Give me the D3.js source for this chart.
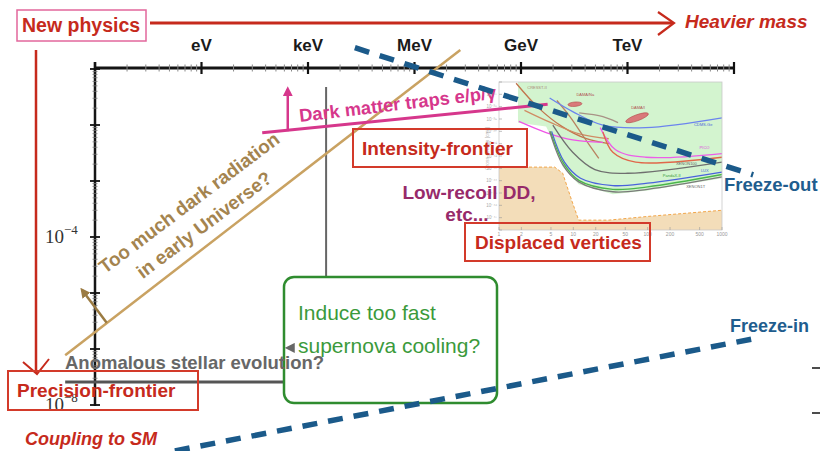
<!DOCTYPE html>
<html>
<head>
<meta charset="utf-8">
<script src="https://cdn.jsdelivr.net/npm/d3@7"></script>
<style>
  body { margin: 0; background: #fff; }
  svg { display: block; font-family: "Liberation Sans", Arial, Helvetica, sans-serif; }
</style>
</head>
<body>
<svg id="chart" width="820" height="451"></svg>
<script>
// mass axis: one major step per labelled unit
var massLabels = ["eV", "keV", "MeV", "GeV", "TeV"];
var massSteps = [1, 2, 3, 4, 5];
var couplingTicks = [1e-4, 1e-7];
var couplingLabels = ["\u22124", "\u22128"];

// schematic lines, [mass step, log10 coupling]
var freezeOut = [[2.44, -0.62], [6.18, -2.89]];
var freezeIn = [[0.75, -7.82], [6.23, -5.80]];
var darkRadiation = [[-0.28, -6.11], [3.43, -0.66]];
var darkRadArrow = [[0.11, -5.53], [-0.12, -4.95]];
var trapsLine = [[1.57, -2.14], [4.25, -1.63]];
var trapsArrow = [[1.81, -2.11], [1.81, -1.36]];
var stellarFloor = [[-0.28, -6.59], [2.17, -6.59]];
var stellarWall = [[2.17, -1.32], [2.17, -6.66]];
var stellarArrow = [[2.17, -5.98], [1.81, -5.98]];

// inset: direct detection plot, [mass GeV, log10 cross section]
var insetMassTicks = [1, 2, 5, 10, 20, 50, 100, 200, 500, 1000];
var insetSigmaTicks = [-36, -37, -38, -39, -40, -41, -42, -43, -44, -45, -46, -47, -48];
var excludedRegion = [[1.8, -36], [1000, -36], [1000, -43.8], [100, -44.8], [34, -45.1], [11.8, -44.3], [7.2, -42.9], [4.8, -40.2], [4.3, -39.6], [1.8, -39.3]];
var lowRecoilRegion = [[1, -42.9], [5.6, -42.9], [7.2, -43.4], [9.5, -45.6], [11.8, -47.2], [30, -47.2], [100, -46.9], [1000, -46.4]];
var curveXenon1T = [[4.8, -40.0], [7.2, -42.7], [11.8, -44.1], [34, -44.9], [100, -44.7], [1000, -43.7]];
var curvePandaX = [[4.9, -40.0], [7.4, -42.6], [12, -44.0], [34, -44.7], [100, -44.5], [1000, -43.5]];
var curveLux = [[5.1, -40.0], [7.6, -42.5], [12.5, -43.8], [34, -44.4], [100, -44.2], [1000, -43.3]];
var curveXenon100 = [[5.3, -39.5], [9.8, -41.7], [19.5, -43.1], [55, -43.4], [1000, -42.5]];
var curveDarkSide = [[25, -40.05], [34, -41.7], [69, -42.5], [1000, -42.1]];
var curvePico = [[23, -39.7], [37, -41.5], [94, -42.1], [1000, -41.8]];
var curveCdmsLow = [[1.85, -39.2], [4.3, -40.1], [9.8, -40.7], [25, -40.9]];
var curveCdmsGe = [[4.8, -37.3], [9.8, -38.4], [25, -39.5], [94, -39.7], [1000, -38.9]];
var curveCresst = [[1.7, -36.1], [3.4, -38.1], [7, -39.6], [15, -40.6], [30, -41.0]];
var curveCogent = [[2.2, -38.3], [5, -39.3], [12, -40.2], [30, -40.6]];
var curveDamic = [[6, -37.5], [9, -38.8], [14, -40.5], [22, -42.2]];
var curveEdelweiss = [[12, -38.5], [25, -38.8], [40, -39.3]];
var signalBlobs = [[10.5, -37.8, 7, 2.2, -5], [72, -38.9, 12, 3, -20]];

var svg = d3.select("#chart");
var red = "#c62a1c", blue = "#1b5a8a", gold = "#c9a262", goldText = "#a4844f",
    magenta = "#d6378c", purple = "#972a6a", green = "#2f8c2f", grey = "#676767";

var x = d3.scaleLog().domain([1, 1e6]).range([95, 734]);
var y = d3.scaleLog().domain([1e-1, 1e-7]).range([69, 405]);
function px(d) { return x(Math.pow(10, d[0])); }
function py(d) { return y(Math.pow(10, d[1])); }
var line = d3.line().x(px).y(py);

var defs = svg.append("defs");
function arrowHead(id, color) {
    defs.append("marker").attr("id", id)
        .attr("viewBox", "0 0 10 10").attr("refX", 7).attr("refY", 5)
        .attr("markerWidth", 4).attr("markerHeight", 4).attr("orient", "auto")
        .append("path").attr("d", "M0,0L10,5L0,10z").attr("fill", color);
}
arrowHead("headGold", "#9b7b42");
arrowHead("headMag", magenta);
arrowHead("headGrey", grey);

// --- red frame: new physics / heavier mass / coupling
svg.append("rect").attr("x", 17).attr("y", 10).attr("width", 129).attr("height", 31)
    .attr("fill", "none").attr("stroke", "#e2679c").attr("stroke-width", 1.5);
svg.append("text").attr("x", 22).attr("y", 32).text("New physics")
    .attr("fill", red).attr("font-weight", "bold").attr("font-size", 19.5);
svg.append("line").attr("x1", 150).attr("x2", 673).attr("y1", 23).attr("y2", 23)
    .attr("stroke", red).attr("stroke-width", 3);
svg.append("path").attr("d", "M658,12L674,23L658,35")
    .attr("fill", "none").attr("stroke", red).attr("stroke-width", 2.2);
svg.append("text").attr("x", 685).attr("y", 28).text("Heavier mass")
    .attr("fill", red).attr("font-weight", "bold").attr("font-style", "italic").attr("font-size", 19);

svg.append("line").attr("x1", 36).attr("x2", 36).attr("y1", 50).attr("y2", 373)
    .attr("stroke", red).attr("stroke-width", 2.5);
svg.append("path").attr("d", "M23,362L37,374L49,359")
    .attr("fill", "none").attr("stroke", red).attr("stroke-width", 2);

// --- axes
var axisY = 68;
svg.append("line").attr("x1", x.range()[0]).attr("x2", x.range()[1]).attr("y1", axisY).attr("y2", axisY)
    .attr("stroke", "#151515").attr("stroke-width", 3);
function isMajor(t) { var l = Math.log10(t); return Math.abs(l - Math.round(l)) < 1e-6; }
svg.append("g").selectAll("line").data(x.ticks()).enter().append("line")
    .attr("x1", d => x(d)).attr("x2", d => x(d))
    .attr("y1", d => axisY - (isMajor(d) ? 6 : 3.5)).attr("y2", d => axisY + (isMajor(d) ? 6 : 3.5))
    .attr("stroke", d => isMajor(d) ? "#111" : "#888")
    .attr("stroke-width", d => isMajor(d) ? 2.2 : 1);
svg.append("g").selectAll("text").data(massLabels).enter().append("text")
    .attr("x", (d, i) => x(Math.pow(10, massSteps[i]))).attr("y", 51)
    .attr("text-anchor", "middle").attr("font-weight", "bold").attr("font-size", 17)
    .attr("fill", "#1a1a1a").text(d => d);

svg.append("line").attr("x1", 95).attr("x2", 95).attr("y1", 62).attr("y2", 406)
    .attr("stroke", "#151515").attr("stroke-width", 2.5);
svg.append("g").selectAll("line").data(y.ticks()).enter().append("line")
    .attr("y1", d => y(d)).attr("y2", d => y(d))
    .attr("x1", d => 95 - (isMajor(d) ? 5 : 2.5)).attr("x2", d => 95 + (isMajor(d) ? 5 : 2.5))
    .attr("stroke", d => isMajor(d) ? "#111" : "#777")
    .attr("stroke-width", d => isMajor(d) ? 1.8 : 0.8);
var yl = svg.append("g").selectAll("text").data(couplingTicks).enter().append("text")
    .attr("x", 45).attr("y", d => y(d) + 6)
    .attr("font-family", "'Liberation Serif', 'DejaVu Serif', serif").attr("font-size", 19).attr("fill", "#333");
yl.append("tspan").text("10");
yl.append("tspan").attr("dy", -9).attr("font-size", 13).text((d, i) => couplingLabels[i]);

// cut-off marks at right edge
svg.append("g").selectAll("line").data([368, 413]).enter().append("line")
    .attr("x1", 812).attr("x2", 820).attr("y1", d => d).attr("y2", d => d)
    .attr("stroke", "#111").attr("stroke-width", 1.5);

// --- stellar bound
svg.append("path").attr("d", line(stellarFloor)).attr("stroke", "#555").attr("stroke-width", 3).attr("fill", "none");
svg.append("path").attr("d", line(stellarWall)).attr("stroke", "#666").attr("stroke-width", 2).attr("fill", "none");

// --- dark radiation
svg.append("path").attr("d", line(darkRadiation)).attr("stroke", gold).attr("stroke-width", 2.5).attr("fill", "none");
svg.append("path").attr("d", line(darkRadArrow)).attr("stroke", "#9b7b42").attr("stroke-width", 2.5)
    .attr("fill", "none").attr("marker-end", "url(#headGold)");
var radTxt = svg.append("g").attr("fill", goldText).attr("font-weight", "bold").attr("font-size", 19).attr("text-anchor", "middle");
radTxt.append("text").attr("transform", "translate(193,208) rotate(-37)").text("Too much dark radiation");
radTxt.append("text").attr("transform", "translate(208,230) rotate(-37)").text("in early Universe?");

// --- traps label (under inset)
svg.append("text").attr("transform", "translate(300,122) rotate(-6.8)")
    .attr("fill", magenta).attr("font-weight", "bold").attr("font-size", 18.3).text("Dark matter traps e/p/\u03b3");

// --- inset direct detection plot
var ix = d3.scaleLog().domain([1, 1000]).range([499, 722]);
var iy = d3.scaleLinear().domain([-36, -48]).range([82, 230]);
var iline = d3.line().x(d => ix(d[0])).y(d => iy(d[1])).curve(d3.curveCatmullRom);
var inset = svg.append("g");
inset.append("rect").attr("x", 501).attr("y", 82).attr("width", 221).attr("height", 148).attr("fill", "#fff");
inset.append("path").attr("d", d3.line().x(d => ix(d[0])).y(d => iy(d[1]))(excludedRegion) + "Z")
    .attr("fill", "#d3f4cf");
var tan = lowRecoilRegion.concat([[1000, -48], [1, -48]]);
inset.append("path").attr("d", d3.line().x(d => ix(d[0])).y(d => iy(d[1]))(tan) + "Z").attr("fill", "#f3ddb9");
inset.append("path").attr("d", d3.line().x(d => ix(d[0])).y(d => iy(d[1]))(lowRecoilRegion))
    .attr("fill", "none").attr("stroke", "#f2a64a").attr("stroke-width", 1).attr("stroke-dasharray", "3,2");

var curves = [
    [curveCresst, "#c2744c"], [curveCogent, "#d08c64"], [curveDamic, "#b98260"], [curveEdelweiss, "#a89286"],
    [curveCdmsGe, "#6b84ee"], [curveCdmsLow, "#ef55e6"], [curvePico, "#ec5ee8"], [curveDarkSide, "#e0674a"],
    [curveXenon100, "#6f6f6f"], [curveLux, "#4a62dc"], [curvePandaX, "#4bb54b"], [curveXenon1T, "#7a7a7a"]
];
inset.append("g").selectAll("path").data(curves).enter().append("path")
    .attr("d", d => iline(d[0])).attr("fill", "none").attr("stroke", d => d[1]).attr("stroke-width", 1.3);
inset.append("g").selectAll("ellipse").data(signalBlobs).enter().append("ellipse")
    .attr("cx", 0).attr("cy", 0).attr("rx", d => d[2]).attr("ry", d => d[3])
    .attr("transform", d => "translate(" + ix(d[0]) + "," + iy(d[1]) + ") rotate(" + d[4] + ")")
    .attr("fill", "#d9797a").attr("stroke", "#b54a4a").attr("stroke-width", 0.6);

inset.append("rect").attr("x", 499).attr("y", 82).attr("width", 223).attr("height", 148)
    .attr("fill", "none").attr("stroke", "#c8c8c8").attr("stroke-width", 0.8);
inset.append("g").selectAll("line").data(insetSigmaTicks).enter().append("line")
    .attr("x1", 499).attr("x2", 502).attr("y1", d => iy(d)).attr("y2", d => iy(d)).attr("stroke", "#999").attr("stroke-width", 0.6);
inset.append("g").selectAll("text").data(insetSigmaTicks.slice(1, -1)).enter().append("text")
    .attr("x", 497).attr("y", d => iy(d) + 1.5).attr("text-anchor", "end")
    .attr("font-size", 4.5).attr("fill", "#aaa").text(d => "10" + "\u207b" + String(-d).split("").map(c => "\u2070\u00b9\u00b2\u00b3\u2074\u2075\u2076\u2077\u2078\u2079"[+c]).join(""));
inset.append("text").attr("transform", "translate(489,170) rotate(-90)").attr("font-size", 5).attr("fill", "#bbb").text("Cross section [cm\u00b2]");
inset.append("g").selectAll("line").data(insetMassTicks).enter().append("line")
    .attr("x1", d => ix(d)).attr("x2", d => ix(d)).attr("y1", 230).attr("y2", 227).attr("stroke", "#999").attr("stroke-width", 0.6);
inset.append("g").selectAll("text").data(insetMassTicks).enter().append("text")
    .attr("x", d => ix(d)).attr("y", 236).attr("text-anchor", "middle")
    .attr("font-size", 5).attr("fill", "#999").text(d => d);
var insetNames = [["CRESST-II", 2.4, -36.6, "#aa8877"], ["DAMA/Na", 11, -37.1, "#b05050"], ["DAMA/I", 60, -38.2, "#b05050"],
    ["CDMS-Ge", 420, -39.6, "#4a62dc"], ["PICO", 500, -41.4, "#e040e0"], ["XENON100", 240, -42.7, "#666"],
    ["LUX", 520, -43.3, "#4a62dc"], ["PandaX-II", 160, -43.7, "#3a9a3a"], ["XENON1T", 330, -44.6, "#666"]];
inset.append("g").selectAll("text").data(insetNames).enter().append("text")
    .attr("x", d => ix(d[1])).attr("y", d => iy(d[2])).attr("font-size", 4)
    .attr("fill", d => d[3]).text(d => d[0]);

// --- traps line and arrow (over inset)
svg.append("path").attr("d", line(trapsLine)).attr("stroke", magenta).attr("stroke-width", 3).attr("fill", "none");
svg.append("path").attr("d", line(trapsArrow)).attr("stroke", magenta).attr("stroke-width", 2.5)
    .attr("fill", "none").attr("marker-end", "url(#headMag)");

// --- labelled boxes
function box(bx, by, bw, bh, label, tx, ty) {
    svg.append("rect").attr("x", bx).attr("y", by).attr("width", bw).attr("height", bh)
        .attr("fill", "none").attr("stroke", "#d33a2a").attr("stroke-width", 2);
    svg.append("text").attr("x", tx).attr("y", ty).text(label)
        .attr("fill", red).attr("font-weight", "bold").attr("font-size", 19);
}
box(353, 129, 174, 38, "Intensity-frontier", 362, 155);
box(465, 223, 185, 38, "Displaced vertices", 475, 249);
box(8, 371, 190, 39, "Precision-frontier", 17, 397);

svg.append("text").attr("x", 25).attr("y", 445).text("Coupling to SM")
    .attr("fill", red).attr("font-weight", "bold").attr("font-style", "italic").attr("font-size", 18);

var dd = svg.append("g").attr("fill", purple).attr("font-weight", "bold").attr("font-size", 19).attr("text-anchor", "middle");
dd.append("text").attr("x", 469).attr("y", 199).text("Low-recoil DD,");
dd.append("text").attr("x", 467).attr("y", 221).text("etc...");

// --- supernova box
svg.append("rect").attr("x", 284).attr("y", 277).attr("width", 213).attr("height", 126).attr("rx", 10)
    .attr("fill", "#fff").attr("stroke", green).attr("stroke-width", 2.5);
var sn = svg.append("g").attr("fill", "#3b9a3b").attr("font-size", 21);
sn.append("text").attr("x", 298).attr("y", 320).text("Induce too fast");
sn.append("text").attr("x", 298).attr("y", 353).text("supernova cooling?");
svg.append("path").attr("d", line(stellarArrow)).attr("stroke", "none").attr("stroke-width", 2.5)
    .attr("fill", "none").attr("marker-end", "url(#headGrey)");

svg.append("text").attr("x", 65).attr("y", 369).text("Anomalous stellar evolution?")
    .attr("fill", grey).attr("font-weight", "bold").attr("font-size", 18.5);

// --- freeze-out / freeze-in
svg.append("path").attr("d", line(freezeOut)).attr("stroke", blue).attr("stroke-width", 5.5)
    .attr("stroke-dasharray", "15,11").attr("fill", "none");
svg.append("path").attr("d", line(freezeIn)).attr("stroke", blue).attr("stroke-width", 5.5)
    .attr("stroke-dasharray", "15,11").attr("fill", "none");
svg.append("text").attr("x", 724).attr("y", 191).text("Freeze-out")
    .attr("fill", "#1f5d8e").attr("font-weight", "bold").attr("font-size", 18.5);
svg.append("text").attr("x", 730).attr("y", 332).text("Freeze-in")
    .attr("fill", "#1f5d8e").attr("font-weight", "bold").attr("font-size", 18);
</script>
</body>
</html>
